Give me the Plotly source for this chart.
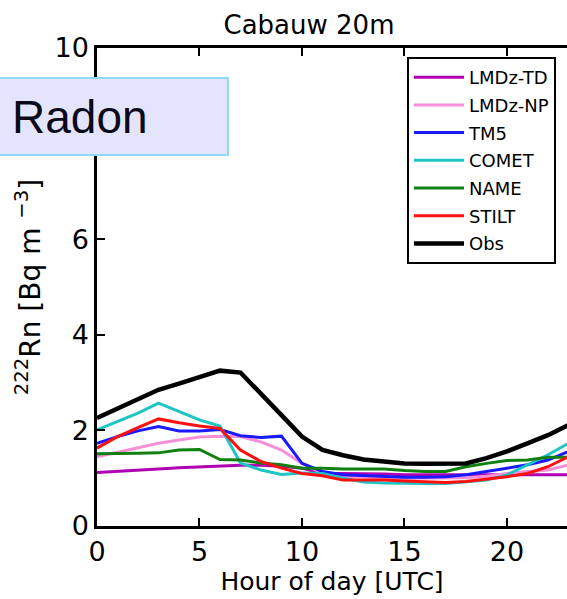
import plotly.graph_objects as go

hours = list(range(24))

lmdz_td = [1.12, 1.14, 1.17, 1.19, 1.22, 1.24, 1.26, 1.27, 1.27, 1.25, 1.21, 1.10, 1.10, 1.10, 1.09, 1.07, 1.07, 1.07, 1.07, 1.07, 1.07, 1.07, 1.07, 1.07]
lmdz_np = [1.45, 1.54, 1.63, 1.73, 1.80, 1.86, 1.88, 1.87, 1.76, 1.59, 1.31, 1.10, 1.04, 1.02, 1.01, 1.00, 1.00, 1.00, 1.01, 1.04, 1.10, 1.14, 1.17, 1.28]
tm5 = [1.73, 1.87, 1.99, 2.08, 1.99, 1.99, 2.02, 1.89, 1.85, 1.88, 1.31, 1.14, 1.07, 1.05, 1.03, 1.02, 1.02, 1.03, 1.07, 1.14, 1.21, 1.28, 1.38, 1.56]
comet = [2.01, 2.18, 2.36, 2.57, 2.39, 2.22, 2.09, 1.32, 1.17, 1.08, 1.11, 1.10, 1.00, 0.92, 0.90, 0.89, 0.89, 0.89, 0.92, 0.96, 1.07, 1.28, 1.49, 1.73]
name = [1.51, 1.51, 1.52, 1.53, 1.59, 1.60, 1.39, 1.38, 1.32, 1.28, 1.21, 1.21, 1.19, 1.19, 1.19, 1.16, 1.14, 1.14, 1.24, 1.31, 1.37, 1.38, 1.44, 1.44]
stilt = [1.63, 1.87, 2.06, 2.24, 2.16, 2.09, 2.04, 1.59, 1.35, 1.21, 1.10, 1.05, 0.96, 0.96, 0.96, 0.94, 0.93, 0.91, 0.93, 0.98, 1.03, 1.10, 1.24, 1.45]
obs = [2.26, 2.45, 2.65, 2.85, 2.98, 3.12, 3.25, 3.21, 2.78, 2.32, 1.87, 1.59, 1.48, 1.39, 1.35, 1.31, 1.30, 1.30, 1.31, 1.42, 1.56, 1.73, 1.90, 2.11]

series_names = ["LMDz-TD", "LMDz-NP", "TM5", "COMET", "NAME", "STILT", "Obs"]
series_values = [lmdz_td, lmdz_np, tm5, comet, name, stilt, obs]
colors = ["#b000b0", "#f78fd8", "#1a1aff", "#1fc4c4", "#108010", "#ff1010", "#000000"]
widths = [3, 3, 3, 3, 3, 3, 4.5]

x_ticks = [0, 5, 10, 15, 20]
y_ticks = [0, 2, 4, 6, 8, 10]
# the "8" label is hidden behind the "Radon" box in the reference
y_ticklabels = ["0", "2", "4", "6", "", "10"]

FONT = "DejaVu Sans"

fig = go.Figure()
for nm, vals, c, w in zip(series_names, series_values, colors, widths):
    fig.add_trace(go.Scatter(x=hours, y=vals, mode="lines", name=nm, legendgroup=nm,
                             line=dict(color=c, width=w)))

W, H = 567, 599
L, R, T, B = 97, 0, 48, 73

axis_common = dict(showgrid=False, zeroline=False, showline=True, linecolor="black",
                   linewidth=2.5, ticks="inside", ticklen=8, tickwidth=1.5,
                   tickcolor="black", tickfont=dict(family=FONT, size=27, color="black"))

fig.update_layout(
    width=W, height=H,
    margin=dict(l=L, r=R, t=T, b=B),
    paper_bgcolor="white", plot_bgcolor="white",
    font=dict(family=FONT, color="black"),
    title=dict(text="Cabauw 20m", x=(309 - L) / (W - L - R), xref="paper", xanchor="center",
               y=1 - 25 / H, yref="container", yanchor="middle",
               font=dict(family=FONT, size=26, color="black")),
    xaxis=dict(range=[0, 22.93], tickvals=x_ticks, mirror="ticks",
               title=dict(text="Hour of day [UTC]", font=dict(family=FONT, size=25), standoff=4),
               **axis_common),
    yaxis=dict(range=[0, 10], tickvals=y_ticks, ticktext=y_ticklabels, mirror=False,
               title=dict(text="<sup>222</sup>Rn [Bq m <sup>−3</sup>]", font=dict(family=FONT, size=28), standoff=6),
               **axis_common),
    legend=dict(x=(407 - L) / (W - L - R), y=(526 - 57) / (526 - 48), xanchor="left", yanchor="top",
                bordercolor="black", borderwidth=2, bgcolor="white", itemwidth=50,
                font=dict(family=FONT, size=18, color="black"), tracegroupgap=1.3),
    showlegend=True,
)

# "Radon" label box
pw = W - L - R
ph = H - T - B
def px_x(p):
    return (p - L) / pw
def px_y(p):
    return (H - B - p) / ph

fig.add_shape(type="rect", xref="paper", yref="paper",
              x0=px_x(-2), x1=px_x(228), y0=px_y(155), y1=px_y(78),
              fillcolor="#e4e4fc", line=dict(color="#90daf6", width=2), layer="above")
fig.add_annotation(xref="paper", yref="paper", x=px_x(10), y=px_y(117),
                   xanchor="left", yanchor="middle", showarrow=False,
                   text="Radon", font=dict(family="Liberation Sans", size=46, color="#0a0a1a"))

fig.write_html("out.html")
